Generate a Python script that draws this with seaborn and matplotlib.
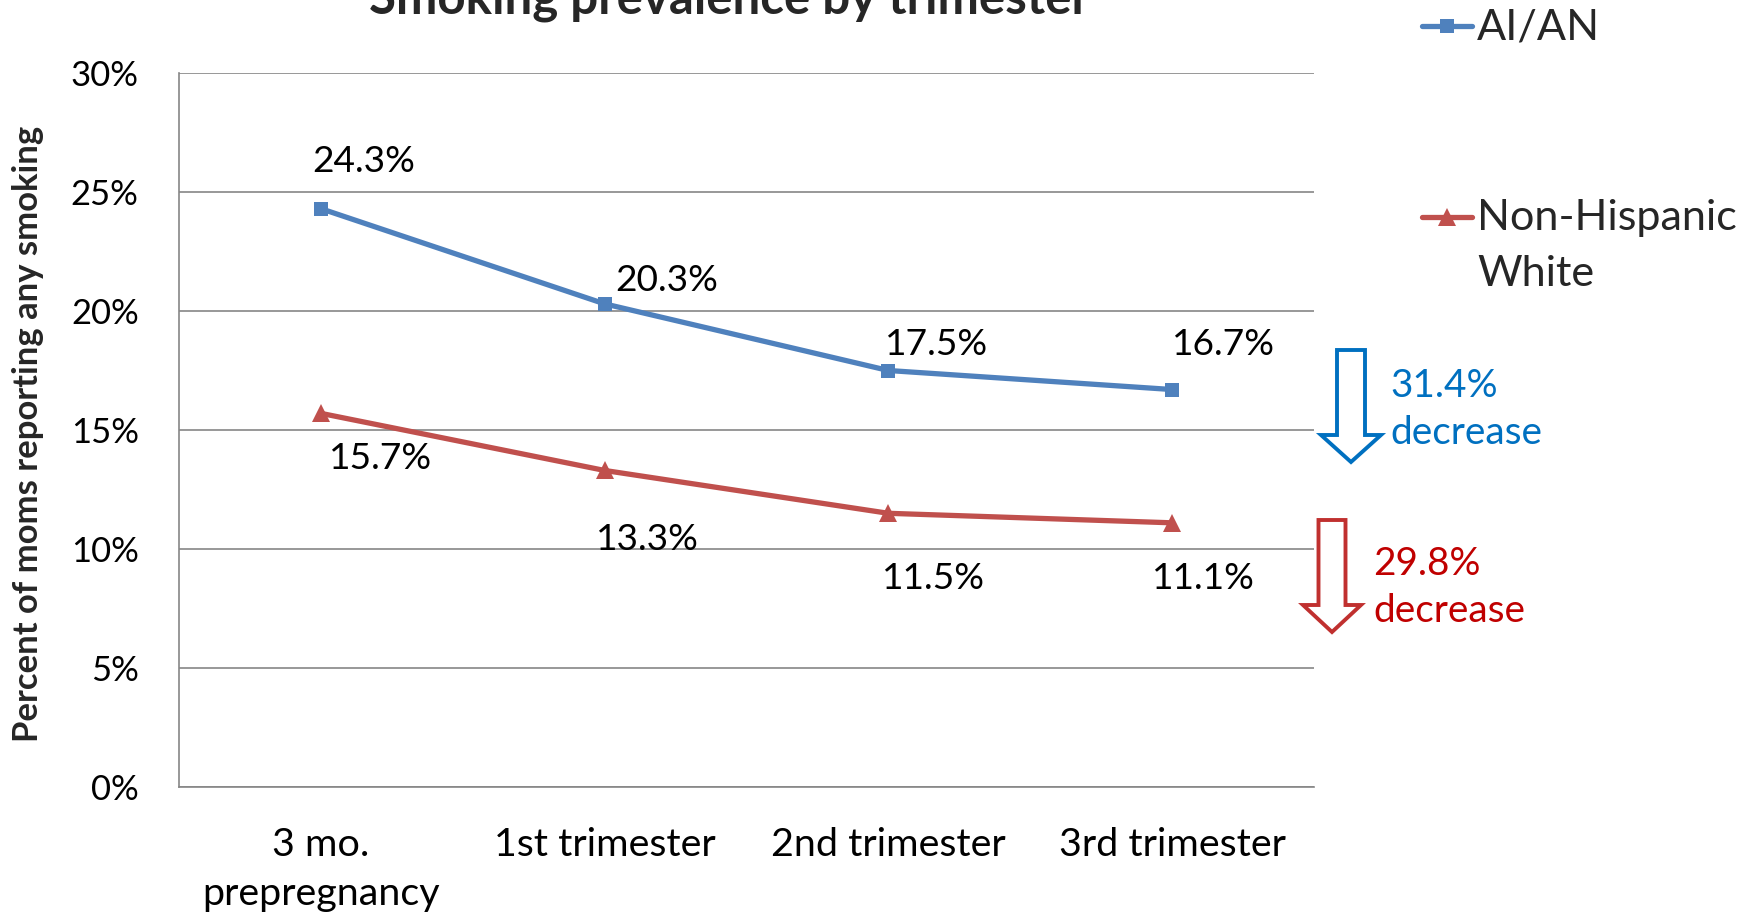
import numpy as np
import pandas as pd
import matplotlib
matplotlib.use("Agg")
import matplotlib.pyplot as plt
import seaborn as sns
from matplotlib.font_manager import FontProperties
from matplotlib.ticker import PercentFormatter
from matplotlib.patches import FancyArrow
from matplotlib.transforms import IdentityTransform

# ---------------- data ----------------
categories = ["3 mo.\nprepregnancy", "1st trimester", "2nd trimester", "3rd trimester"]
series_names = ["AI/AN", "Non-Hispanic White"]
aian = [24.3, 20.3, 17.5, 16.7]
nhw = [15.7, 13.3, 11.5, 11.1]
y_ticks = [0, 5, 10, 15, 20, 25, 30]
title = "Smoking prevalence by trimester"
y_title = "Percent of moms reporting any smoking"
decrease_texts = ["31.4%\ndecrease", "29.8%\ndecrease"]
legend_labels = ["AI/AN", "Non-Hispanic\nWhite"]

# label placement offsets (data units, relative to the point)
aian_offsets = [(0.15, 2.0), (0.22, 1.0), (0.17, 1.1), (0.18, 1.9)]
nhw_offsets = [(0.21, -1.9), (0.15, -2.9), (0.16, -2.76), (0.11, -2.36)]

# ---------------- style ----------------
sns.set_style("white")
FONT = "Lato"
plt.rcParams["font.family"] = [FONT, "DejaVu Sans"]

BLUE = "#4F81BD"
RED = "#C0504D"
GRID = "#868686"
W, H = 1758, 917

fig = plt.figure(figsize=(W / 100, H / 100), dpi=100)
renderer = fig.canvas.get_renderer()


def fit_size(text, target_px, weight="normal"):
    fp = FontProperties(family=FONT, weight=weight, size=100)
    w, _, _ = renderer.get_text_width_height_descent(text, fp, ismath=False)
    return 100.0 * target_px / w


title_fs = fit_size(title, 720, "bold")
ylabel_fs = fit_size(y_title, 617, "bold")
ytick_fs = fit_size("30%", 68)
xtick_fs = fit_size("2nd trimester", 235)
lab_fs = fit_size("24.3%", 103)
leg_fs = fit_size("Non-Hispanic", 260)
ann_fs = fit_size("decrease", 152)

ax = fig.add_axes([179 / W, 1 - 787 / H, (1314 - 179) / W, (787 - 73) / H])

pos = np.arange(len(categories))
df = pd.DataFrame({
    "pos": np.tile(pos, 2),
    "value": aian + nhw,
    "group": np.repeat(series_names, len(categories)),
})

sns.lineplot(
    data=df, x="pos", y="value", hue="group", style="group",
    hue_order=series_names, style_order=series_names,
    palette={series_names[0]: BLUE, series_names[1]: RED},
    markers={series_names[0]: "s", series_names[1]: "^"},
    dashes=False, linewidth=3.8, markersize=10, markeredgewidth=0,
    legend=False, sort=False, ax=ax, zorder=3,
)
lines = ax.lines[:2]
lines[1].set_markersize(12.5)

ax.set_xlim(-0.5, len(categories) - 0.5)
ax.set_ylim(y_ticks[0], y_ticks[-1])
ax.set_yticks(y_ticks)
ax.yaxis.set_major_formatter(PercentFormatter(decimals=0))
ax.set_xticks(pos)
ax.set_xticklabels(categories, fontsize=xtick_fs, linespacing=1.45)
ax.set_xticks(np.arange(len(categories) + 1) - 0.5, minor=True)
ax.set_xlabel("")
ax.set_ylabel("")

ax.grid(axis="y", color=GRID, linewidth=1.2)
ax.grid(axis="x", visible=False)
ax.set_axisbelow(True)
for s in ["top", "right"]:
    ax.spines[s].set_visible(False)
for s in ["left", "bottom"]:
    ax.spines[s].set_color(GRID)
    ax.spines[s].set_linewidth(1.2)

ax.tick_params(axis="y", which="major", length=8, width=1.2, color=GRID,
               pad=21, labelsize=ytick_fs, labelcolor="black")
ax.tick_params(axis="x", which="major", length=0, pad=29, labelcolor="black")
ax.tick_params(axis="x", which="minor", length=9, width=1.2, color=GRID)

# data labels
for i, (v, (dx, dy)) in enumerate(zip(aian, aian_offsets)):
    ax.text(pos[i] + dx, v + dy, f"{v:.1f}%", ha="center", va="center",
            fontsize=lab_fs, color="black")
for i, (v, (dx, dy)) in enumerate(zip(nhw, nhw_offsets)):
    ax.text(pos[i] + dx, v + dy, f"{v:.1f}%", ha="center", va="center",
            fontsize=lab_fs, color="black")

# title and y title
fig.text(729 / W, 1 - 13 / H, title, ha="center", va="baseline",
         fontsize=title_fs, fontweight="bold")
fig.text(28 / W, 1 - 434 / H, y_title, rotation=90, ha="center", va="center",
         fontsize=ylabel_fs, fontweight="bold")

# legend
leg = fig.legend(
    lines, legend_labels, loc="upper left", bbox_to_anchor=(1422 / W, 1 - 8 / H),
    frameon=False, fontsize=leg_fs, handlelength=50 / (leg_fs * 100 / 72),
    handletextpad=0.12, labelspacing=3.4, borderpad=0, borderaxespad=0,
    handleheight=1.2,
)
for t in leg.get_texts():
    t.set_linespacing(1.58)
try:
    for col in leg._legend_handle_box.get_children():
        for item in col.get_children():
            item.align = "top"
except Exception:
    pass
for lh in leg.legend_handles:
    lh.set_linewidth(3.8)

# decrease arrows and texts
arrow_specs = [
    (1351, 350, 462, 28, 60, 27, "#0070C0"),
    (1332, 520, 632, 27, 58, 27, "#C0302F"),
]
for x, ytop, ytip, w, hw, hl, col in arrow_specs:
    arr = FancyArrow(x, H - ytop, 0, -(ytip - ytop), width=w, head_width=hw,
                     head_length=hl, length_includes_head=True,
                     transform=IdentityTransform(), facecolor="white",
                     edgecolor=col, linewidth=2.8, joinstyle="miter")
    fig.add_artist(arr)

fig.text(1390 / W, 1 - 444 / H, decrease_texts[0], ha="left", va="baseline",
         fontsize=ann_fs, color="#0070C0", linespacing=1.38)
fig.text(1373 / W, 1 - 622 / H, decrease_texts[1], ha="left", va="baseline",
         fontsize=ann_fs, color="#C00000", linespacing=1.38)

fig.savefig("out.png", dpi=100)
